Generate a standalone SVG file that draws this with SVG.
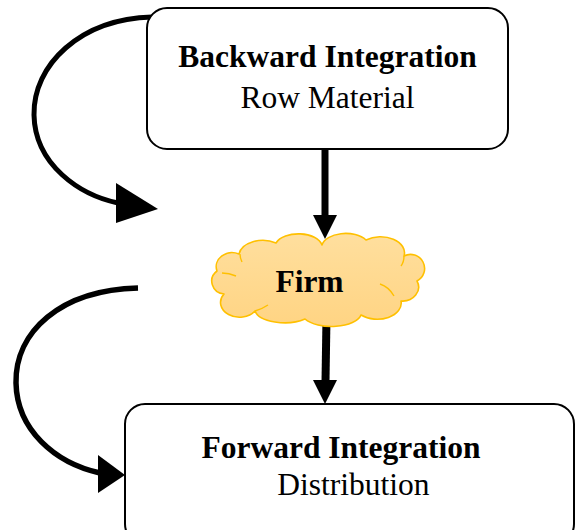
<svg xmlns="http://www.w3.org/2000/svg" width="575" height="530" viewBox="0 0 575 530">
  <defs>
    <linearGradient id="cloudFill" x1="0" y1="0" x2="0" y2="1">
      <stop offset="0" stop-color="#FFDF9E"/>
      <stop offset="1" stop-color="#FFD483"/>
    </linearGradient>
    <style>
      .box { fill: #FFFFFF; stroke: #000000; stroke-width: 2; }
      .cloud { fill: url(#cloudFill); stroke: #FFC000; stroke-width: 1.6; stroke-linejoin: round; }
      .crease { fill: none; stroke: #FFC000; stroke-width: 1.4; }
      .title { font-family: "Liberation Serif", "Times New Roman", serif; font-size: 31.5px; font-weight: bold; fill: #000000; }
      .sub { font-family: "Liberation Serif", "Times New Roman", serif; font-size: 31.5px; fill: #000000; }
      .wire { fill: none; stroke: #000000; stroke-linecap: butt; }
      .head { fill: #000000; }
    </style>
  </defs>

  <rect width="575" height="530" fill="#FFFFFF"/>

  <!-- connectors -->
  <g id="connectors">
    <!-- loop back into the upper stage -->
    <path class="wire" stroke-width="5" d="M152,17 C80,19 33,65 34,115 C35,165 80,195 118,203"/>
    <polygon class="head" points="116,183 158,209 116,223"/>
    <!-- loop down into the lower stage -->
    <path class="wire" stroke-width="5.5" d="M138,288 C60,290 15,332 16,383 C17,430 55,463 100,473"/>
    <polygon class="head" points="98,455 125,475 98,493"/>
    <!-- upper stage to firm -->
    <line class="wire" stroke-width="7" x1="325" y1="149" x2="325" y2="216"/>
    <polygon class="head" points="313,215 337,215 325,239"/>
    <!-- firm to lower stage -->
    <line class="wire" stroke-width="8" x1="326.5" y1="317" x2="325.5" y2="381"/>
    <polygon class="head" points="313,380 337,380 325,404"/>
  </g>

  <!-- upper stage -->
  <g id="backward">
    <rect class="box" x="147" y="8" width="361" height="141" rx="20" ry="20"/>
    <text class="title" x="327.5" y="67" text-anchor="middle">Backward Integration</text>
    <text class="sub" x="327.5" y="108" text-anchor="middle">Row Material</text>
  </g>

  <!-- firm -->
  <g id="firm">
    <path class="cloud" d="M224,294
      A14,13 0 0 1 217,271
      A16,14 0 0 1 239,254
      A24,16 0 0 1 276,243
      A24,14 0 0 1 322,245
      A24,14 0 0 1 366,240
      A24,16 0 0 1 404,256
      A14,14 0 0 1 417,281
      A16,14 0 0 1 401,301
      A24,16 0 0 1 361,315
      A30,14 0 0 1 305,319
      A30,14 0 0 1 255,311
      A18,14 0 0 1 224,294 Z"/>
    <path class="crease" d="M222,273 Q229,273 236,276"/>
    <path class="crease" d="M240,254 Q240,258 242,262"/>
    <path class="crease" d="M404,256 Q404,262 401,266"/>
    <path class="crease" d="M380,284 Q389,287 394,296"/>
    <path class="crease" d="M255,311 Q262,309 268,305"/>
    <text class="title" x="309.5" y="292" text-anchor="middle">Firm</text>
  </g>

  <!-- lower stage -->
  <g id="forward">
    <rect class="box" x="125" y="404" width="449" height="140" rx="20" ry="20"/>
    <text class="title" x="341" y="458" text-anchor="middle">Forward Integration</text>
    <text class="sub" x="353.5" y="495" text-anchor="middle">Distribution</text>
  </g>
</svg>
